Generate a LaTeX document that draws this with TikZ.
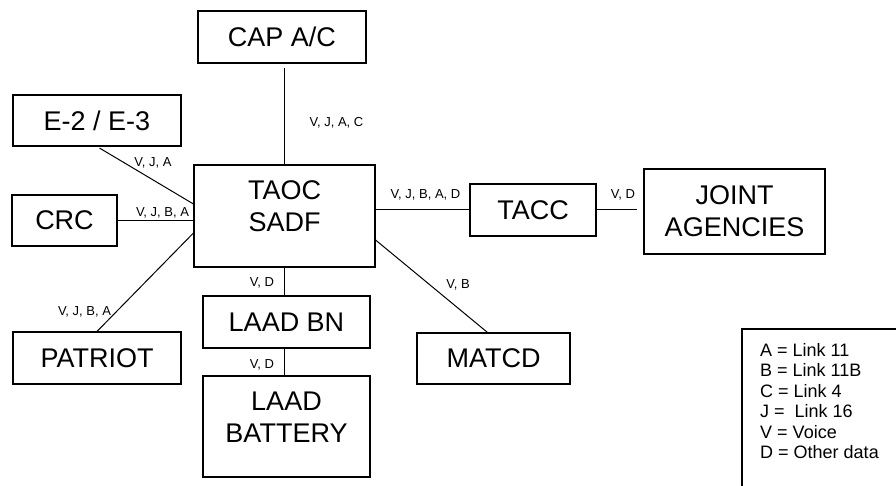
\documentclass[tikz,border=0pt]{standalone}
\usepackage{fontspec}
\setmainfont{Liberation Sans}
\begin{document}
\begin{tikzpicture}[x=1pt,y=-1pt,%
% common options for the boxes:
box/.style = {draw, line width=1.1pt, align=center, inner sep=0,
            font=\fontsize{27}{32}\selectfont},
boxtext/.style = {align=center, inner sep=0, font=\fontsize{27}{32}\selectfont},
% common options for the link labels:
link/.style = {inner sep=0, font=\fontsize{13}{15}\selectfont},
legend/.style = {inner sep=0, anchor=base west, font=\fontsize{18}{20}\selectfont},
wire/.style = {line width=1pt}]
\useasboundingbox (0,0) rectangle (896,486);
\clip (0,0) rectangle (896,486);
\node[box,minimum width=168pt,minimum height=52pt] (cap) at (282,37) {CAP A/C};
\node[box,minimum width=168pt,minimum height=51pt] (e2) at (97,120.5) {E-2 / E-3};
\node[box,minimum width=105pt,minimum height=51pt] (crc) at (64.5,220.5) {CRC};
\node[box,minimum width=181pt,minimum height=102pt,
      label={[name=taoctext,boxtext,yshift=10pt]center:TAOC\\SADF}] (taoc) at (284.5,216) {};
\node[box,minimum width=126pt,minimum height=52pt] (tacc) at (533,210) {TACC};
\node[box,minimum width=181pt,minimum height=85pt] (joint) at (734.5,211.5) {JOINT\\AGENCIES};
\node[box,minimum width=168pt,minimum height=52pt] (patriot) at (97,358) {PATRIOT};
\node[box,minimum width=167pt,minimum height=52pt] (bn) at (286.5,322) {LAAD BN};
\node[box,minimum width=167pt,minimum height=101pt,
      label={[name=batttext,boxtext,yshift=9.5pt]center:LAAD\\BATTERY}] (batt) at (286.5,426.5) {};
\node[box,minimum width=153pt,minimum height=51pt] (matcd) at (493.5,358.5) {MATCD};
% connectors
\draw[wire,shorten <=4pt] (taoc.north |- cap.south) -- (taoc.north);
\draw[wire,shorten <=3pt] (e2.south) -- ([yshift=12pt]taoc.west);
\draw[wire] (crc.east) -- (crc.east -| taoc.west);
\draw[wire] (patriot.north) -- ([yshift=-17pt]taoc.west);
\draw[wire] (tacc.west -| taoc.east) -- (tacc.west);
\draw[wire,shorten >=6pt] (tacc.east) -- (tacc.east -| joint.west);
\draw[wire] ([yshift=-24pt]taoc.east) -- ([xshift=-6pt]matcd.north);
\draw[wire] (taoc.south) -- (taoc.south |- bn.north);
\draw[wire] (taoc.south |- bn.south) -- (taoc.south |- batt.north);
% link labels
\node[link] (capl) at (336.5,123) {V, J, A, C};
\node[link] (e2l) at (153,163) {V, J, A};
\node[link] (crcl) at (162.5,212.5) {V, J, B, A};
\node[link] (patl) at (84.5,312) {V, J, B, A};
\node[link] (taccl) at (425.5,195) {V, J, B, A, D};
\node[link] (jointl) at (623,195) {V, D};
\node[link] (bnl) at (262,283) {V, D};
\node[link] (battl) at (262,365) {V, D};
\node[link] (matl) at (458,285) {V, B};
% legend
\draw[line width=1.1pt] (742,329) rectangle (910,500);
\foreach \i/\txt in {0/{A = Link 11},1/{B = Link 11B},2/{C = Link 4},
    3/{J =\ \ Link 16},4/{V = Voice},5/{D = Other data}}
  \node[legend] (leg\i) at (760,356.5+20.4*\i) {\txt};
\end{tikzpicture}
\end{document}
